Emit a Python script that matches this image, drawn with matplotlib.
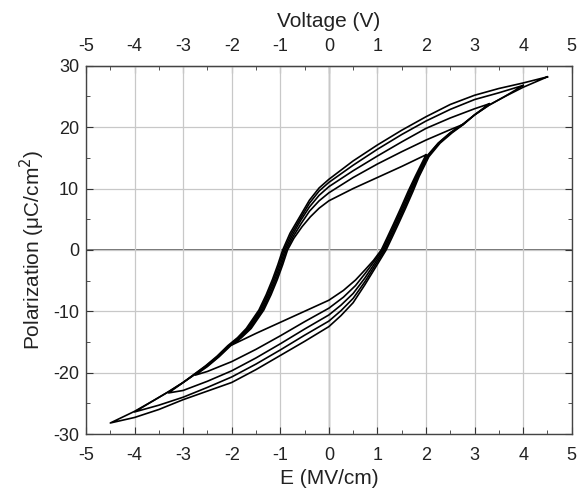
import matplotlib
matplotlib.use("Agg")
import matplotlib.pyplot as plt
from matplotlib.ticker import MultipleLocator

plt.rcParams['font.family'] = ['Liberation Sans', 'DejaVu Sans']
plt.rcParams['axes.unicode_minus'] = False

# P-E hysteresis loops.
# each loop is one closed path: top tip -> falling branch -> bottom tip -> rising branch
# loop 1, Emax ~ 2.0 MV/cm
loop1_e = [2.0, 1.5, 1.0, 0.5, 0.0, -0.2, -0.38, -0.55, -0.72, -0.85, -0.95, -1.06, -1.19, -1.34, -1.6,
           -1.8, -2.0,
           -1.5, -1.0, -0.5, 0.0, 0.3, 0.55, 0.75, 0.92, 1.08, 1.2, 1.33, 1.48, 1.63, 1.78, 2.0]
loop1_p = [15.5, 13.6, 11.8, 10.0, 8.0, 6.8, 5.4, 3.8, 1.9, 0.0, -2.4, -4.8, -7.3, -9.8, -12.8,
           -14.3, -15.5,
           -13.6, -11.8, -10.0, -8.2, -6.6, -4.9, -3.2, -1.7, 0.0, 2.0, 4.2, 6.8, 9.5, 12.0, 15.5]

# loop 2, Emax ~ 2.75
loop2_e = [2.75, 2.5, 2.0, 1.5, 1.0, 0.5, 0.0, -0.2, -0.4, -0.57, -0.74, -0.875, -0.975, -1.085, -1.215,
           -1.365, -1.625, -1.82, -2.02, -2.26, -2.5, -2.75,
           -2.5, -2.0, -1.5, -1.0, -0.5, 0.0, 0.3, 0.55, 0.76, 0.94, 1.105, 1.225, 1.355, 1.505, 1.655,
           1.8, 2.01, 2.25, 2.5, 2.75]
loop2_p = [20.4, 19.6, 17.9, 16.0, 14.0, 11.8, 9.3, 8.0, 6.3, 4.3, 2.1, 0.0, -2.4, -4.8, -7.3,
           -9.8, -12.8, -14.3, -15.6, -17.4, -19.0, -20.4,
           -19.8, -18.2, -16.2, -14.0, -11.7, -9.5, -7.7, -5.8, -3.7, -1.8, 0.0, 2.0, 4.2, 6.8, 9.5,
           12.0, 15.2, 17.4, 19.1, 20.4]

# loop 3, Emax ~ 3.3
loop3_e = [3.3, 3.0, 2.5, 2.0, 1.5, 1.0, 0.5, 0.0, -0.2, -0.4, -0.58, -0.76, -0.9, -1.0, -1.11,
           -1.24, -1.39, -1.65, -1.84, -2.04, -2.27, -2.52, -2.76, -3.0, -3.3,
           -3.0, -2.5, -2.0, -1.5, -1.0, -0.5, 0.0, 0.25, 0.5, 0.74, 0.96, 1.13, 1.25, 1.38, 1.53,
           1.68, 1.82, 2.02, 2.26, 2.51, 2.76, 3.0, 3.3]
loop3_p = [23.8, 23.0, 21.5, 19.8, 17.6, 15.3, 12.9, 10.3, 8.9, 7.0, 4.8, 2.3, 0.0, -2.4, -4.8,
           -7.3, -9.8, -12.8, -14.3, -15.6, -17.4, -19.0, -20.3, -21.6, -23.3,
           -22.9, -21.4, -19.7, -17.6, -15.3, -12.9, -10.6, -9.0, -7.1, -4.6, -2.0, 0.0, 2.0, 4.2, 6.8,
           9.5, 12.0, 15.2, 17.4, 19.1, 20.5, 22.0, 23.8]

# loop 4, Emax ~ 4.0
loop4_e = [4.0, 3.5, 3.0, 2.5, 2.0, 1.5, 1.0, 0.5, 0.0, -0.2, -0.4, -0.59, -0.78, -0.925, -1.025,
           -1.135, -1.265, -1.415, -1.675, -1.86, -2.06, -2.28, -2.53, -2.77, -3.0, -3.3, -3.6, -4.0,
           -3.5, -3.0, -2.5, -2.0, -1.5, -1.0, -0.5, 0.0, 0.25, 0.5, 0.74, 0.97, 1.155, 1.275, 1.405,
           1.555, 1.705, 1.84, 2.04, 2.27, 2.52, 2.77, 3.0, 3.3, 3.6, 4.0]
loop4_p = [26.8, 25.6, 24.5, 22.9, 21.0, 18.8, 16.4, 13.8, 11.0, 9.6, 7.6, 5.1, 2.5, 0.0, -2.4,
           -4.8, -7.3, -9.8, -12.8, -14.3, -15.6, -17.3, -18.9, -20.3, -21.6, -23.1, -24.5, -26.4,
           -25.3, -24.0, -22.4, -20.7, -18.6, -16.3, -13.9, -11.6, -9.9, -7.9, -5.2, -2.3, 0.0, 2.0, 4.2,
           6.8, 9.5, 12.0, 15.2, 17.4, 19.1, 20.5, 22.0, 23.6, 24.9, 26.8]

# loop 5, Emax ~ 4.5
loop5_e = [4.5, 4.0, 3.5, 3.0, 2.5, 2.0, 1.5, 1.0, 0.5, 0.0, -0.2, -0.4, -0.6, -0.8, -0.95,
           -1.05, -1.16, -1.29, -1.44, -1.7, -1.88, -2.08, -2.3, -2.54, -2.78, -3.0, -3.3, -3.6,
           -4.0, -4.5,
           -4.0, -3.5, -3.0, -2.5, -2.0, -1.5, -1.0, -0.5, 0.0, 0.25, 0.5, 0.74, 0.98, 1.18, 1.3,
           1.43, 1.58, 1.73, 1.86, 2.06, 2.29, 2.54, 2.78, 3.0, 3.3, 3.6, 4.0, 4.5]
loop5_p = [28.2, 27.2, 26.3, 25.2, 23.7, 21.7, 19.5, 17.1, 14.5, 11.5, 10.1, 8.1, 5.4, 2.7, 0.0,
           -2.4, -4.8, -7.3, -9.8, -12.8, -14.3, -15.6, -17.3, -18.9, -20.3, -21.6, -23.1, -24.5,
           -26.3, -28.2,
           -27.3, -26.0, -24.4, -23.0, -21.6, -19.5, -17.2, -14.9, -12.5, -10.7, -8.6, -5.7, -2.6, 0.0, 2.0,
           4.2, 6.8, 9.5, 12.0, 15.2, 17.4, 19.1, 20.5, 22.0, 23.6, 24.9, 26.5, 28.2]

loops = [(loop1_e, loop1_p), (loop2_e, loop2_p), (loop3_e, loop3_p),
         (loop4_e, loop4_p), (loop5_e, loop5_p)]

x_ticks = [-5, -4, -3, -2, -1, 0, 1, 2, 3, 4, 5]
y_ticks = [-30, -20, -10, 0, 10, 20, 30]

fig = plt.figure(figsize=(5.81, 4.91), dpi=100)
ax = fig.add_axes([0.148, 0.116, 0.836, 0.750])

ax.grid(True, color='#c8c8c8', linewidth=0.9)
ax.axhline(0, color='#555555', linewidth=1.2, zorder=1)
ax.axvline(0, color='#888888', linewidth=1.0, zorder=1)

for e, p in loops:
    ax.plot(e, p, color='black', linewidth=1.2, zorder=3)

ax.set_xlim(-5, 5)
ax.set_ylim(-30, 30)
ax.set_xticks(x_ticks)
ax.set_yticks(y_ticks)
ax.xaxis.set_minor_locator(MultipleLocator(0.5))
ax.yaxis.set_minor_locator(MultipleLocator(5))
ax.tick_params(which='both', direction='in', top=False, right=True, colors='#333333',
               labelsize=13, labelcolor='#222222')
ax.tick_params(which='major', length=5)
ax.tick_params(which='minor', length=3)
ax.tick_params(axis='x', pad=9)
ax.tick_params(axis='y', pad=5)
for s in ax.spines.values():
    s.set_color('#444444')
    s.set_linewidth(1.0)

ax.set_xlabel("E (MV/cm)", fontsize=15, color='#222222', labelpad=4)
ax.set_ylabel("Polarization (\u03bcC/cm$^2$)", fontsize=15, color='#222222', labelpad=4)

top = ax.secondary_xaxis('top')
top.set_xticks(x_ticks)
top.xaxis.set_minor_locator(MultipleLocator(0.5))
top.tick_params(which='both', direction='in', colors='#333333', labelsize=13,
                labelcolor='#222222', pad=8)
top.tick_params(which='major', length=5)
top.tick_params(which='minor', length=3)
top.set_xlabel("Voltage (V)", fontsize=15, color='#222222', labelpad=8)

fig.savefig("out.png", dpi=100)
